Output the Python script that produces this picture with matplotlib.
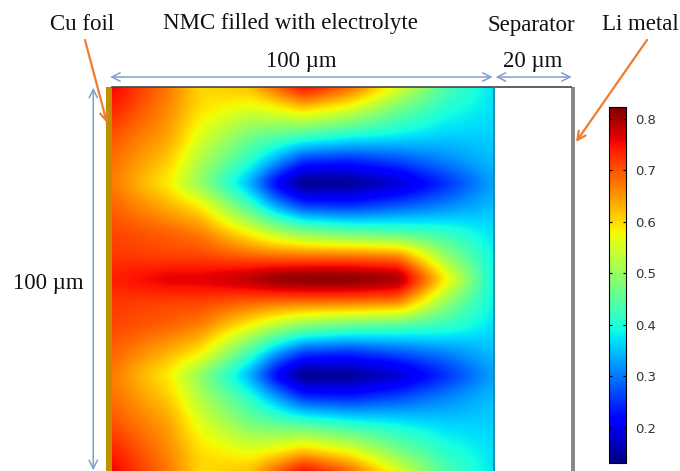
import numpy as np
import matplotlib
matplotlib.use("Agg")
import matplotlib.pyplot as plt
from matplotlib.cm import ScalarMappable
from matplotlib.colors import Normalize

# grid positions in um
x_um = [0, 15, 23, 36, 43, 50, 62, 75, 87, 100]
y_um = [0, 4.7, 12.5, 19, 25, 31, 38, 44, 50]

# values, top half, the bottom half is the mirror
row_0 = [.76, .67, .60, .62, .69, .76, .69, .56, .44, .37]
row_1 = [.74, .66, .60, .57, .59, .63, .58, .48, .41, .37]
row_2 = [.70, .64, .56, .47, .45, .43, .40, .38, .36, .36]
row_3 = [.68, .61, .52, .41, .33, .25, .24, .27, .31, .35]
row_4 = [.67, .58, .49, .33, .20, .125, .135, .17, .24, .33]
row_5 = [.69, .63, .59, .43, .33, .26, .25, .28, .31, .35]
row_6 = [.71, .69, .67, .58, .53, .49, .46, .44, .42, .37]
row_7 = [.72, .71, .71, .69, .68, .68, .68, .67, .50, .38]
row_8 = [.74, .77, .77, .80, .83, .84, .84, .82, .60, .38]

cbar_ticks = [0.2, 0.3, 0.4, 0.5, 0.6, 0.7, 0.8]
vmin = 0.132
vmax = 0.823


def fx(x):
    return x / 680


def fy(y):
    return 1 - y / 471


def smooth(a, sigma):
    # small blur so the grid does not show as straight facets
    r = int(3 * sigma)
    k = np.exp(-0.5 * (np.arange(-r, r + 1) / sigma) ** 2)
    k = k / k.sum()
    return np.convolve(np.pad(a, r, mode="edge"), k, mode="valid")


top = [row_0, row_1, row_2, row_3, row_4, row_5, row_6, row_7]
z = np.array(top + [row_8] + top[::-1])
y_all = np.array(y_um + [100 - v for v in y_um[-2::-1]])

# resample on about one pixel
xf = np.linspace(0, 100, 382)
yf = np.linspace(0, 100, 384)
zx = np.array([np.interp(xf, x_um, r) for r in z])
zf = np.array([np.interp(yf, y_all, c) for c in zx.T]).T
zf = np.apply_along_axis(smooth, 0, zf, 5)
zf = np.apply_along_axis(smooth, 1, zf, 5)

fig = plt.figure(figsize=(6.8, 4.71), dpi=100)
ax = fig.add_axes([fx(106), 0, (575 - 106) / 680, 384 / 471])
im = ax.imshow(zf, extent=[0, 100, 100, 0], cmap="jet", vmin=vmin, vmax=vmax, aspect="auto",
               interpolation="bilinear")
ax.set_xlim(-1.57, 121.05)
ax.set_ylim(100, 0)
ax.axis("off")

# layers
ax.axvspan(-1.57, 0, color="#BF8F00", lw=0)
ax.axvspan(120, 121.05, color="#888888", lw=0)
ax.plot([0, 120], [0, 0], color="#444444", lw=1.2, clip_on=False)
ax.plot([100, 100], [0, 100], color="#2F7F9F", lw=1.2)

# dimension arrows
blue = "#7F9FD4"
arrow = dict(arrowstyle="<->", color=blue, lw=1.1, mutation_scale=15, shrinkA=0, shrinkB=0)
ax.annotate("", xy=(-0.5, -2.6), xytext=(99.5, -2.6), arrowprops=arrow, annotation_clip=False)
ax.annotate("", xy=(100.3, -2.6), xytext=(120.2, -2.6), arrowprops=arrow, annotation_clip=False)
ax.annotate("", xy=(-4.9, 0.2), xytext=(-4.9, 99.8), arrowprops=arrow, annotation_clip=False)

# orange pointers
orange = dict(arrowstyle="->", color="#ED7D31", lw=1.6, mutation_scale=15, shrinkA=0, shrinkB=0)
ax.annotate("", xy=(fx(107), fy(123)), xytext=(fx(85), fy(40)), xycoords="figure fraction",
            textcoords="figure fraction", arrowprops=orange, annotation_clip=False)
ax.annotate("", xy=(fx(576), fy(142)), xytext=(fx(647), fy(40)), xycoords="figure fraction",
            textcoords="figure fraction", arrowprops=orange, annotation_clip=False)

# labels
labels = [("Cu foil", 82, 24), ("NMC filled with electrolyte", 290, 24), ("Separator", 531, 25),
          ("Li metal", 640, 25), ("100 \u00b5m", 301, 62), ("20 \u00b5m", 533, 62), ("100 \u00b5m", 48, 283)]
for txt, px, py in labels:
    fig.text(fx(px), fy(py), txt, family="Liberation Serif", fontsize=16.5, color="#111111",
             ha="center", va="center")

# colorbar
cax = fig.add_axes([fx(609), fy(463), 17 / 680, 356 / 471])
cb = fig.colorbar(ScalarMappable(Normalize(vmin, vmax), "jet"), cax=cax, ticks=cbar_ticks)
cb.ax.set_yticklabels(["%.1f" % t for t in cbar_ticks])
cb.ax.tick_params(axis="y", direction="in", left=True, right=True, length=2.5, width=0.8,
                  pad=6.5, labelsize=9.5, labelcolor="#333333")
cb.outline.set_linewidth(0.8)

fig.savefig("out.png", dpi=100)
